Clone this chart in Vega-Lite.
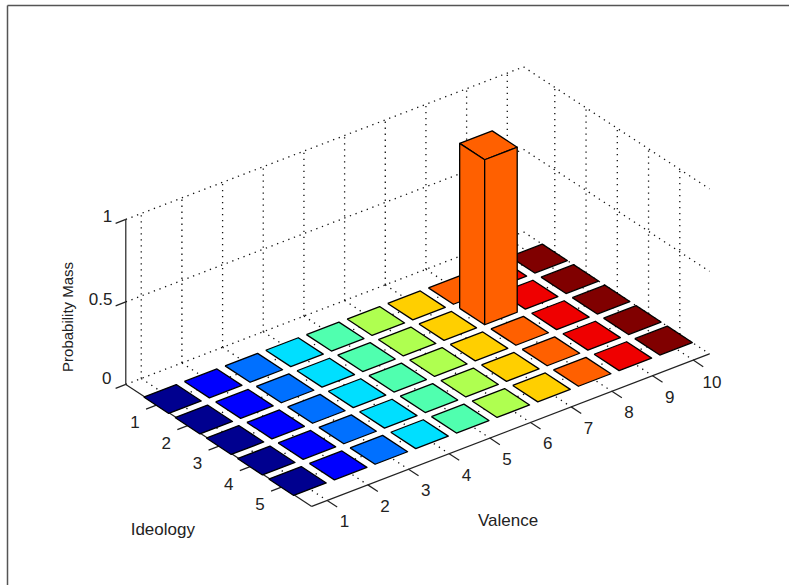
{
"$schema":"https://vega.github.io/schema/vega-lite/v6.json",
"width":782,"height":580,
"autosize":{"type":"none"},
"padding":{"left":7,"top":5,"right":0,"bottom":0},
"background":"white",
"view":{"stroke":null},
"datasets":{
"cells":[
{"valence":1,"ideology":1,"mass":0},{"valence":1,"ideology":2,"mass":0},{"valence":1,"ideology":3,"mass":0},{"valence":1,"ideology":4,"mass":0},{"valence":1,"ideology":5,"mass":0},
{"valence":2,"ideology":1,"mass":0},{"valence":2,"ideology":2,"mass":0},{"valence":2,"ideology":3,"mass":0},{"valence":2,"ideology":4,"mass":0},{"valence":2,"ideology":5,"mass":0},
{"valence":3,"ideology":1,"mass":0},{"valence":3,"ideology":2,"mass":0},{"valence":3,"ideology":3,"mass":0},{"valence":3,"ideology":4,"mass":0},{"valence":3,"ideology":5,"mass":0},
{"valence":4,"ideology":1,"mass":0},{"valence":4,"ideology":2,"mass":0},{"valence":4,"ideology":3,"mass":0},{"valence":4,"ideology":4,"mass":0},{"valence":4,"ideology":5,"mass":0},
{"valence":5,"ideology":1,"mass":0},{"valence":5,"ideology":2,"mass":0},{"valence":5,"ideology":3,"mass":0},{"valence":5,"ideology":4,"mass":0},{"valence":5,"ideology":5,"mass":0},
{"valence":6,"ideology":1,"mass":0},{"valence":6,"ideology":2,"mass":0},{"valence":6,"ideology":3,"mass":0},{"valence":6,"ideology":4,"mass":0},{"valence":6,"ideology":5,"mass":0},
{"valence":7,"ideology":1,"mass":0},{"valence":7,"ideology":2,"mass":0},{"valence":7,"ideology":3,"mass":0},{"valence":7,"ideology":4,"mass":0},{"valence":7,"ideology":5,"mass":0},
{"valence":8,"ideology":1,"mass":0},{"valence":8,"ideology":2,"mass":1},{"valence":8,"ideology":3,"mass":0},{"valence":8,"ideology":4,"mass":0},{"valence":8,"ideology":5,"mass":0},
{"valence":9,"ideology":1,"mass":0},{"valence":9,"ideology":2,"mass":0},{"valence":9,"ideology":3,"mass":0},{"valence":9,"ideology":4,"mass":0},{"valence":9,"ideology":5,"mass":0},
{"valence":10,"ideology":1,"mass":0},{"valence":10,"ideology":2,"mass":0},{"valence":10,"ideology":3,"mass":0},{"valence":10,"ideology":4,"mass":0},{"valence":10,"ideology":5,"mass":0}
],
"grid":[
{"v":1,"i":0,"z":0,"v2":1,"i2":5.95,"z2":0},{"v":2,"i":0,"z":0,"v2":2,"i2":5.95,"z2":0},{"v":3,"i":0,"z":0,"v2":3,"i2":5.95,"z2":0},{"v":4,"i":0,"z":0,"v2":4,"i2":5.95,"z2":0},{"v":5,"i":0,"z":0,"v2":5,"i2":5.95,"z2":0},{"v":6,"i":0,"z":0,"v2":6,"i2":5.95,"z2":0},{"v":7,"i":0,"z":0,"v2":7,"i2":5.95,"z2":0},{"v":8,"i":0,"z":0,"v2":8,"i2":5.95,"z2":0},{"v":9,"i":0,"z":0,"v2":9,"i2":5.95,"z2":0},{"v":10,"i":0,"z":0,"v2":10,"i2":5.95,"z2":0},
{"v":1,"i":0,"z":0,"v2":1,"i2":0,"z2":1},{"v":2,"i":0,"z":0,"v2":2,"i2":0,"z2":1},{"v":3,"i":0,"z":0,"v2":3,"i2":0,"z2":1},{"v":4,"i":0,"z":0,"v2":4,"i2":0,"z2":1},{"v":5,"i":0,"z":0,"v2":5,"i2":0,"z2":1},{"v":6,"i":0,"z":0,"v2":6,"i2":0,"z2":1},{"v":7,"i":0,"z":0,"v2":7,"i2":0,"z2":1},{"v":8,"i":0,"z":0,"v2":8,"i2":0,"z2":1},{"v":9,"i":0,"z":0,"v2":9,"i2":0,"z2":1},{"v":10,"i":0,"z":0,"v2":10,"i2":0,"z2":1},
{"v":0.62,"i":1,"z":0,"v2":10.4,"i2":1,"z2":0},{"v":0.62,"i":2,"z":0,"v2":10.4,"i2":2,"z2":0},{"v":0.62,"i":3,"z":0,"v2":10.4,"i2":3,"z2":0},{"v":0.62,"i":4,"z":0,"v2":10.4,"i2":4,"z2":0},{"v":0.62,"i":5,"z":0,"v2":10.4,"i2":5,"z2":0},
{"v":10.4,"i":1,"z":0,"v2":10.4,"i2":1,"z2":1},{"v":10.4,"i":2,"z":0,"v2":10.4,"i2":2,"z2":1},{"v":10.4,"i":3,"z":0,"v2":10.4,"i2":3,"z2":1},{"v":10.4,"i":4,"z":0,"v2":10.4,"i2":4,"z2":1},{"v":10.4,"i":5,"z":0,"v2":10.4,"i2":5,"z2":1},
{"v":0.62,"i":0,"z":0,"v2":10.4,"i2":0,"z2":0},{"v":0.62,"i":0,"z":0.5,"v2":10.4,"i2":0,"z2":0.5},{"v":0.62,"i":0,"z":1,"v2":10.4,"i2":0,"z2":1},
{"v":10.4,"i":0,"z":0,"v2":10.4,"i2":5.95,"z2":0},{"v":10.4,"i":0,"z":0.5,"v2":10.4,"i2":5.95,"z2":0.5},{"v":10.4,"i":0,"z":1,"v2":10.4,"i2":5.95,"z2":1}
],
"axes":[
{"v":0.62,"i":0,"z":0,"v2":0.62,"i2":0,"z2":1},{"v":0.62,"i":0,"z":0,"v2":0.62,"i2":5.95,"z2":0},{"v":0.62,"i":5.95,"z":0,"v2":10.4,"i2":5.95,"z2":0},
{"v":0.62,"i":0,"z":0,"v2":0.37,"i2":0,"z2":0},{"v":0.62,"i":0,"z":0.5,"v2":0.37,"i2":0,"z2":0.5},{"v":0.62,"i":0,"z":1,"v2":0.37,"i2":0,"z2":1},
{"v":0.62,"i":1,"z":0,"v2":0.35,"i2":1,"z2":0},{"v":0.62,"i":2,"z":0,"v2":0.35,"i2":2,"z2":0},{"v":0.62,"i":3,"z":0,"v2":0.35,"i2":3,"z2":0},{"v":0.62,"i":4,"z":0,"v2":0.35,"i2":4,"z2":0},{"v":0.62,"i":5,"z":0,"v2":0.35,"i2":5,"z2":0},
{"v":1,"i":5.95,"z":0,"v2":1,"i2":6.27,"z2":0},{"v":2,"i":5.95,"z":0,"v2":2,"i2":6.27,"z2":0},{"v":3,"i":5.95,"z":0,"v2":3,"i2":6.27,"z2":0},{"v":4,"i":5.95,"z":0,"v2":4,"i2":6.27,"z2":0},{"v":5,"i":5.95,"z":0,"v2":5,"i2":6.27,"z2":0},{"v":6,"i":5.95,"z":0,"v2":6,"i2":6.27,"z2":0},{"v":7,"i":5.95,"z":0,"v2":7,"i2":6.27,"z2":0},{"v":8,"i":5.95,"z":0,"v2":8,"i2":6.27,"z2":0},{"v":9,"i":5.95,"z":0,"v2":9,"i2":6.27,"z2":0},{"v":10,"i":5.95,"z":0,"v2":10,"i2":6.27,"z2":0}
],
"labels":[
{"label":"1","v":1,"i":6.5,"z":-0.065},{"label":"2","v":2,"i":6.5,"z":-0.065},{"label":"3","v":3,"i":6.5,"z":-0.065},{"label":"4","v":4,"i":6.5,"z":-0.065},{"label":"5","v":5,"i":6.5,"z":-0.065},{"label":"6","v":6,"i":6.5,"z":-0.065},{"label":"7","v":7,"i":6.5,"z":-0.065},{"label":"8","v":8,"i":6.5,"z":-0.065},{"label":"9","v":9,"i":6.5,"z":-0.065},{"label":"10","v":10,"i":6.55,"z":-0.065},
{"label":"1","v":0.08,"i":1,"z":-0.06},{"label":"2","v":0.08,"i":2,"z":-0.06},{"label":"3","v":0.08,"i":3,"z":-0.06},{"label":"4","v":0.08,"i":4,"z":-0.06},{"label":"5","v":0.08,"i":5,"z":-0.06},
{"label":"0","v":0.15,"i":0,"z":0.08},{"label":"0.5","v":0,"i":0,"z":0.57},{"label":"1","v":0.17,"i":0,"z":1.06},
{"label":"Ideology","v":-2.25,"i":4.92,"z":0},{"label":"Valence","v":3.32,"i":8.72,"z":0}
],
"ztitle":[{"label":"Probability Mass","v":1.32,"i":-2.76,"z":0}]
},
"encoding":{
"x":{"field":"px","type":"quantitative","scale":{"domain":[7,789],"nice":false,"zero":false},"axis":{"orient":"top","title":null,"labels":false,"ticks":false,"grid":false,"domain":true,"domainColor":"#555555","domainWidth":1.5}},
"y":{"field":"py","type":"quantitative","scale":{"domain":[585,5],"nice":false,"zero":false},"axis":{"orient":"left","title":null,"labels":false,"ticks":false,"grid":false,"domain":true,"domainColor":"#555555","domainWidth":1.5}}
},
"layer":[
{"data":{"name":"grid"},
"transform":[
{"calculate":"172.5+(datum.v-1)*40.67+(datum.i-1)*31.25","as":"px"},
{"calculate":"399-(datum.v-1)*15.6+(datum.i-1)*20.5-165*datum.z","as":"py"},
{"calculate":"172.5+(datum.v2-1)*40.67+(datum.i2-1)*31.25","as":"px2"},
{"calculate":"399-(datum.v2-1)*15.6+(datum.i2-1)*20.5-165*datum.z2","as":"py2"}],
"mark":{"type":"rule","color":"#111111","strokeWidth":1.3,"strokeDash":[1.3,4.7]},
"encoding":{"x2":{"field":"px2"},"y2":{"field":"py2"}}},
{"data":{"name":"axes"},
"transform":[
{"calculate":"172.5+(datum.v-1)*40.67+(datum.i-1)*31.25","as":"px"},
{"calculate":"399-(datum.v-1)*15.6+(datum.i-1)*20.5-165*datum.z","as":"py"},
{"calculate":"172.5+(datum.v2-1)*40.67+(datum.i2-1)*31.25","as":"px2"},
{"calculate":"399-(datum.v2-1)*15.6+(datum.i2-1)*20.5-165*datum.z2","as":"py2"}],
"mark":{"type":"rule","color":"#222222","strokeWidth":1.2},
"encoding":{"x2":{"field":"px2"},"y2":{"field":"py2"}}},
{"data":{"name":"cells"},
"transform":[
{"calculate":"[0,1,2,3,4]","as":"seq"},
{"calculate":"[-0.4,-0.4,0.4,0.4,-0.4]","as":"du"},
{"calculate":"[-0.4,0.4,0.4,-0.4,-0.4]","as":"di"},
{"flatten":["seq","du","di"]},
{"calculate":"172.5+(datum.valence+datum.du-1)*40.67+(datum.ideology+datum.di-1)*31.25","as":"px"},
{"calculate":"399-(datum.valence+datum.du-1)*15.6+(datum.ideology+datum.di-1)*20.5-165*datum.mass","as":"py"}],
"mark":{"type":"line","stroke":"black","strokeWidth":1.3,"strokeJoin":"round"},
"encoding":{
"fill":{"field":"valence","type":"ordinal","legend":null,"scale":{"domain":[1,2,3,4,5,6,7,8,9,10],"range":["#00008f","#0000ff","#0070ff","#00dfff","#50ffaf","#afff50","#ffcf00","#ff6000","#ef0000","#800000"]}},
"detail":{"field":"ideology"},
"order":{"field":"seq"}}},
{"data":{"name":"cells"},
"transform":[
{"filter":"datum.mass>0"},
{"calculate":"[0,1,2,3,4]","as":"seq"},
{"calculate":"[-0.4,-0.4,-0.4,-0.4,-0.4]","as":"du"},
{"calculate":"[-0.4,0.4,0.4,-0.4,-0.4]","as":"di"},
{"calculate":"[0,0,1,1,0]","as":"dz"},
{"flatten":["seq","du","di","dz"]},
{"calculate":"172.5+(datum.valence+datum.du-1)*40.67+(datum.ideology+datum.di-1)*31.25","as":"px"},
{"calculate":"399-(datum.valence+datum.du-1)*15.6+(datum.ideology+datum.di-1)*20.5-165*datum.mass*datum.dz","as":"py"}],
"mark":{"type":"line","stroke":"black","strokeWidth":1.3,"strokeJoin":"round"},
"encoding":{
"fill":{"field":"valence","type":"ordinal","legend":null},
"detail":{"field":"ideology"},
"order":{"field":"seq"}}},
{"data":{"name":"cells"},
"transform":[
{"filter":"datum.mass>0"},
{"calculate":"[0,1,2,3,4]","as":"seq"},
{"calculate":"[-0.4,0.4,0.4,-0.4,-0.4]","as":"du"},
{"calculate":"[0.4,0.4,0.4,0.4,0.4]","as":"di"},
{"calculate":"[0,0,1,1,0]","as":"dz"},
{"flatten":["seq","du","di","dz"]},
{"calculate":"172.5+(datum.valence+datum.du-1)*40.67+(datum.ideology+datum.di-1)*31.25","as":"px"},
{"calculate":"399-(datum.valence+datum.du-1)*15.6+(datum.ideology+datum.di-1)*20.5-165*datum.mass*datum.dz","as":"py"}],
"mark":{"type":"line","stroke":"black","strokeWidth":1.3,"strokeJoin":"round"},
"encoding":{
"fill":{"field":"valence","type":"ordinal","legend":null},
"detail":{"field":"ideology"},
"order":{"field":"seq"}}},
{"data":{"name":"labels"},
"transform":[
{"calculate":"172.5+(datum.v-1)*40.67+(datum.i-1)*31.25","as":"px"},
{"calculate":"399-(datum.v-1)*15.6+(datum.i-1)*20.5-165*datum.z","as":"py"}],
"mark":{"type":"text","font":"Liberation Sans","fontSize":17,"color":"#222222","align":"center","baseline":"middle"},
"encoding":{"text":{"field":"label"}}},
{"data":{"name":"ztitle"},
"transform":[
{"calculate":"172.5+(datum.v-1)*40.67+(datum.i-1)*31.25","as":"px"},
{"calculate":"399-(datum.v-1)*15.6+(datum.i-1)*20.5-165*datum.z","as":"py"}],
"mark":{"type":"text","font":"Liberation Sans","fontSize":15,"color":"#222222","align":"center","baseline":"middle","angle":270},
"encoding":{"text":{"field":"label"}}}
]
}
